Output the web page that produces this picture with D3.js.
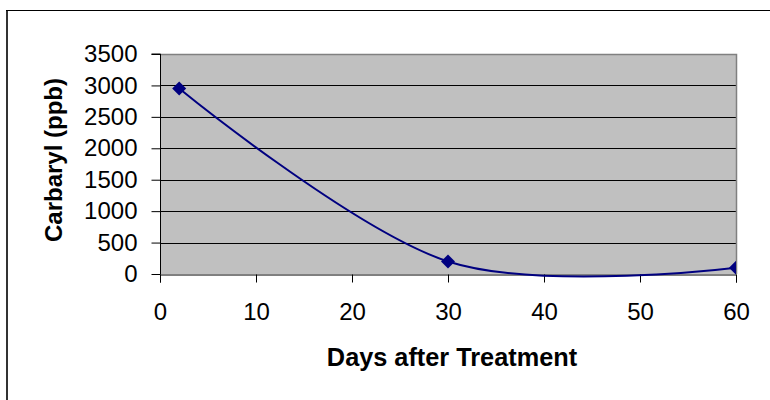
<!DOCTYPE html>
<html>
<head>
<meta charset="utf-8">
<script src="https://cdn.jsdelivr.net/npm/d3@7"></script>
<style>
  html, body { margin: 0; padding: 0; background: #fff; }
  svg { display: block; }
  text { font-family: "Liberation Sans", Arial, sans-serif; fill: #000; }
</style>
</head>
<body>
<svg id="chart" width="770" height="400"></svg>
<script>
// Carbaryl residue measured after treatment
const days = [2, 30, 60];
const carbaryl = [2950, 200, 100];
const xTicks = [0, 10, 20, 30, 40, 50, 60];
const yTicks = [0, 500, 1000, 1500, 2000, 2500, 3000, 3500];
const xTitle = "Days after Treatment";
const yTitle = "Carbaryl (ppb)";

const svg = d3.select("#chart");
const plot = { left: 160, right: 736, top: 54, bottom: 274 };

const x = d3.scaleLinear().domain([0, 60]).range([plot.left, plot.right]);
const y = d3.scaleLinear().domain([0, 3500]).range([plot.bottom, plot.top]);

// outer chart frame
svg.append("line").attr("x1", 7).attr("x2", 7).attr("y1", 10).attr("y2", 400)
  .attr("stroke", "#333").attr("stroke-width", 2);
svg.append("line").attr("x1", 6).attr("x2", 770).attr("y1", 10.5).attr("y2", 10.5)
  .attr("stroke", "#000").attr("stroke-width", 1);

// plot area background
svg.append("rect")
  .attr("x", plot.left).attr("y", plot.top)
  .attr("width", plot.right - plot.left).attr("height", plot.bottom - plot.top)
  .attr("fill", "#c0c0c0");

// horizontal gridlines
svg.append("g").selectAll("line")
  .data(yTicks.filter(v => v > 0 && v < 3500))
  .join("line")
  .attr("x1", plot.left).attr("x2", plot.right)
  .attr("y1", d => Math.round(y(d)) + 0.5).attr("y2", d => Math.round(y(d)) + 0.5)
  .attr("stroke", "#000").attr("stroke-width", 1);

// plot area border (top and right)
svg.append("path")
  .attr("d", `M${plot.left},${plot.top + 0.5}H${plot.right + 0.5}V${plot.bottom}`)
  .attr("fill", "none").attr("stroke", "#808080").attr("stroke-width", 1.5);

// axes
const fmt = d3.format("d");
const xAxis = d3.axisBottom(x).tickValues(xTicks).tickFormat(fmt).tickSize(8).tickPadding(20);
const yAxis = d3.axisLeft(y).tickValues(yTicks).tickFormat(fmt).tickSize(9).tickPadding(14);

const gx = svg.append("g").attr("transform", `translate(0,${Math.round(y(0)) + 0.5})`).call(xAxis);
const gy = svg.append("g").attr("transform", `translate(${plot.left + 0.5},0)`).call(yAxis);

[gx, gy].forEach(g => {
  g.selectAll(".domain").attr("stroke", "#000").attr("stroke-width", 1);
  g.selectAll(".tick line").attr("stroke", "#000");
  g.selectAll(".tick text")
    .style("font-family", '"Liberation Sans", Arial, sans-serif')
    .style("font-size", "24px").attr("fill", "#000");
});
gy.select(".domain").attr("d", `M-9,${plot.top}H0V${Math.round(y(0)) + 0.5}`);

// smoothed series line with diamond markers
const pts = days.map((d, i) => [x(d), y(carbaryl[i])]);
svg.append("clipPath").attr("id", "plotclip")
  .append("rect").attr("x", plot.left).attr("y", 0)
  .attr("width", plot.right - plot.left).attr("height", 400);

const series = svg.append("g").attr("clip-path", "url(#plotclip)");
series.append("path")
  .attr("d", d3.line().curve(d3.curveCardinal.tension(0))(pts))
  .attr("fill", "none").attr("stroke", "#000080").attr("stroke-width", 2);

series.selectAll("path.marker")
  .data(pts)
  .join("path")
  .attr("class", "marker")
  .attr("transform", d => `translate(${d[0]},${d[1]})`)
  .attr("d", "M0,-7L7,0L0,7L-7,0Z")
  .attr("fill", "#000080");

// axis titles
svg.append("text")
  .attr("x", 452).attr("y", 366)
  .attr("text-anchor", "middle")
  .style("font-size", "25.3px").style("font-weight", "bold")
  .text(xTitle);

svg.append("text")
  .attr("transform", `translate(62,160) rotate(-90)`)
  .attr("text-anchor", "middle")
  .style("font-size", "24px").style("font-weight", "bold")
  .text(yTitle);
</script>
</body>
</html>
